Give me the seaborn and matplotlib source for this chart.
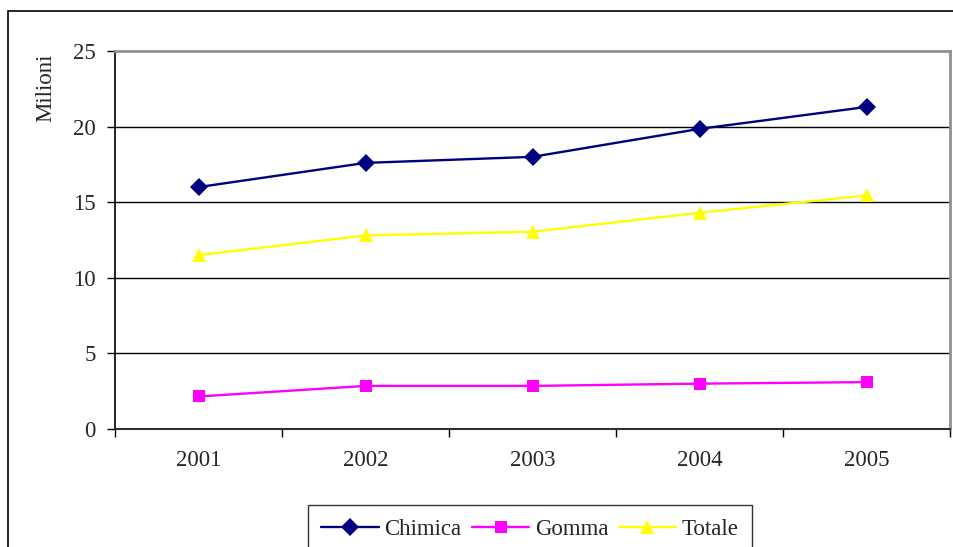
import pandas as pd
import seaborn as sns
import matplotlib.pyplot as plt
from matplotlib.lines import Line2D
from matplotlib.patches import Rectangle

# valori (milioni)
anni = ['2001', '2002', '2003', '2004', '2005']
chimica = [16.0, 17.6, 18.0, 19.85, 21.3]
gomma = [2.15, 2.85, 2.85, 3.0, 3.1]
totale = [11.5, 12.8, 13.05, 14.3, 15.45]

serie = ['Chimica', 'Gomma', 'Totale']
colori = {'Chimica': '#000080', 'Gomma': '#FF00FF', 'Totale': '#FFFF00'}
marker = {'Chimica': 'D', 'Gomma': 's', 'Totale': '^'}
msize = {'Chimica': 9, 'Gomma': 8.5, 'Totale': 10.5}

df = pd.DataFrame({'anno': anni, 'Chimica': chimica, 'Gomma': gomma, 'Totale': totale})
df['pos'] = range(len(anni))
long_df = df.melt(id_vars=['anno', 'pos'], value_vars=serie, var_name='serie', value_name='valore')

sns.set_style('white')
plt.rcParams['font.family'] = ['Liberation Serif', 'DejaVu Serif']
fs = 16.5

fig = plt.figure(figsize=(9.54, 5.47), dpi=100)
ax = fig.add_axes([115 / 954, 1 - 429 / 547, (950 - 115) / 954, (429 - 51) / 547])

for s in serie:
    sub = long_df[long_df['serie'] == s]
    sns.lineplot(data=sub, x='pos', y='valore', ax=ax, color=colori[s], marker=marker[s],
                 markersize=msize[s], markeredgewidth=0, linewidth=1.7, legend=False)

ax.set_xlim(-0.5, len(anni) - 0.5)
ax.set_ylim(0, 25)
ax.set_yticks(range(0, 26, 5))
ax.set_xticks(range(len(anni)))
ax.set_xticklabels(anni)
ax.set_xticks([i - 0.5 for i in range(len(anni) + 1)], minor=True)
ax.tick_params(axis='x', which='major', length=0, pad=15, labelsize=fs)
ax.tick_params(axis='x', which='minor', length=6, width=1, color='black', direction='out', bottom=True)
ax.tick_params(axis='y', length=6, width=1, color='black', direction='out', left=True, pad=8, labelsize=fs)
ax.set_xlabel('')
ax.set_ylabel('')

for y in range(5, 25, 5):
    ax.axhline(y, color='black', linewidth=1, zorder=0)

ax.spines['left'].set_color('black')
ax.spines['bottom'].set_color('#303030')
ax.spines['left'].set_linewidth(1.2)
ax.spines['bottom'].set_linewidth(1.5)
ax.spines['top'].set_color('#909090')
ax.spines['right'].set_color('#909090')
ax.spines['top'].set_linewidth(2)
ax.spines['right'].set_linewidth(2)

fig.text(46 / 954, 1 - 88 / 547, 'Milioni', rotation=90, ha='center', va='center', fontsize=fs)

handles = [Line2D([], [], color=colori[s], marker=marker[s], markersize=msize[s],
                  markeredgewidth=0, linewidth=1.7) for s in serie]
leg = fig.legend(handles, serie, loc='upper center', bbox_to_anchor=(530 / 954, 1 - 505 / 547),
                 ncol=3, frameon=True, fancybox=False, edgecolor='black', fontsize=fs,
                 handlelength=2.5, columnspacing=0.45, handletextpad=0.25, borderpad=0.6,
                 borderaxespad=0)
leg.get_frame().set_linewidth(1)

# cornice esterna
fig.patches.append(Rectangle((8 / 954, -0.05), 1.1, 1 - 11 / 547 + 0.05, transform=fig.transFigure,
                             fill=False, edgecolor='black', linewidth=1.2))

fig.savefig('out.png', dpi=100, facecolor='white')
